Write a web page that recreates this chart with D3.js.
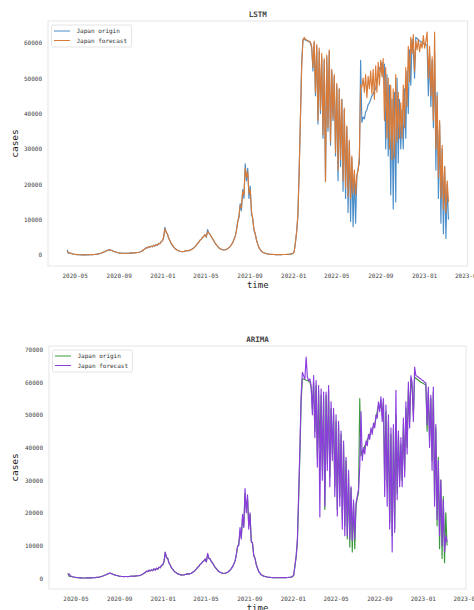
<!DOCTYPE html>
<html>
<head>
<meta charset="utf-8">
<script src="https://cdn.jsdelivr.net/npm/d3@7"></script>
<style>
  body { margin: 0; background: #fff; }
  svg { display: block; }
</style>
</head>
<body>
<div id="chart"></div>
<script>
// daily cases in thousands, one point every 3.5 days from 2020-04-10
const startDate = "2020-04-10";
const stepHours = 84;

const origin = [
  // 2020
  1.5, 0.5, 0.6, 0.45, 0.35, 0.25,
  0.2, 0.15, 0.1, 0.08, 0.06, 0.05, 0.04, 0.04, 0.04,
  0.05, 0.05, 0.05, 0.06, 0.08, 0.1, 0.12, 0.15, 0.2,
  0.25, 0.3, 0.4, 0.5, 0.65, 0.8, 0.95, 1.1, 1.3,
  1.4, 1.5, 1.35, 1.2, 1.05, 0.9, 0.8, 0.7, 0.6,
  0.55, 0.5, 0.5, 0.45, 0.5, 0.5, 0.45, 0.5,
  0.55, 0.6, 0.55, 0.6, 0.6, 0.65, 0.7, 0.75, 0.85,
  1.0, 1.2, 1.5, 1.7, 2.1, 2.0, 2.4, 2.2, 2.5,
  2.3, 2.8, 2.5, 3.0, 2.7, 3.3, 3.2, 3.8,
  // 2021
  4.0, 4.9, 7.8, 6.4, 6.0, 4.7, 4.0, 3.2, 2.7,
  2.2, 1.8, 1.6, 1.3, 1.2, 1.0, 1.0, 0.95,
  1.0, 1.1, 1.2, 1.3, 1.2, 1.4, 1.5, 1.8, 2.0,
  2.4, 2.8, 3.3, 3.6, 4.2, 4.5, 5.0, 5.3, 5.8,
  5.0, 7.2, 6.2, 5.8, 5.1, 4.6, 4.0, 3.3, 2.9,
  2.4, 2.0, 1.8, 1.6, 1.5, 1.4, 1.5, 1.6,
  1.8, 2.1, 2.4, 2.9, 3.5, 4.3, 5.2, 7.0, 9.5,
  10.5, 14.5, 12.5, 18.5, 16.0, 25.8, 21.0, 24.5, 16.0,
  19.5, 11.5, 10.5, 7.0, 6.0, 4.2, 3.0, 2.0,
  1.5, 1.0, 0.8, 0.6, 0.5, 0.4, 0.3, 0.25, 0.22,
  0.18, 0.15, 0.13, 0.12, 0.1, 0.1, 0.1, 0.12, 0.12,
  0.13, 0.14, 0.15, 0.16, 0.18, 0.2, 0.25, 0.3, 0.45,
  // 2022
  0.8, 3.5, 6.5, 11.0, 24.0, 38.0, 54.0, 61.0,
  61.0, 60.8, 60.6, 60.5, 60.3, 60.0, 58.5, 52.0,
  60.0, 45.0, 59.0, 37.0, 57.5, 40.0, 56.0, 33.0, 55.0,
  21.0, 56.0, 35.0, 57.5, 31.0, 52.0, 38.0, 50.5, 28.0,
  48.0, 21.0, 47.0, 25.0, 44.0, 18.0, 41.0, 16.0, 36.0,
  12.0, 32.0, 9.5, 27.5, 8.0, 23.0, 9.0, 22.0,
  24.5, 26.0, 55.0, 37.5, 39.0, 38.5, 40.5, 41.0, 42.5,
  43.0, 44.0, 45.0, 45.5, 46.5, 47.0, 49.0, 51.0, 53.0,
  52.0, 54.5, 50.0, 54.0, 30.0, 51.0, 28.0, 48.0,
  17.0, 44.0, 13.0, 46.0, 15.0, 50.0, 26.0, 44.0, 30.0,
  41.0, 30.0, 47.0, 33.0, 52.0, 40.0, 58.0, 48.0, 61.0,
  58.0, 50.0, 61.5, 61.2, 60.9, 60.6, 60.3, 60.0, 59.8,
  // 2023
  59.6, 59.4, 59.2, 45.0, 57.0, 42.0, 55.0, 36.0, 57.0,
  24.0, 46.0, 16.0, 37.0, 9.0, 30.0, 6.0, 25.0,
  4.7, 20.0, 10.0
];

const lstmForecast = [
  // 2020
  1.2, 0.7, 0.55, 0.5, 0.38, 0.28,
  0.22, 0.17, 0.12, 0.09, 0.07, 0.06, 0.05, 0.05, 0.05,
  0.06, 0.06, 0.06, 0.07, 0.09, 0.11, 0.13, 0.16, 0.21,
  0.26, 0.32, 0.42, 0.52, 0.66, 0.82, 0.97, 1.12, 1.32,
  1.42, 1.48, 1.37, 1.22, 1.07, 0.92, 0.82, 0.72, 0.62,
  0.57, 0.52, 0.5, 0.48, 0.5, 0.5, 0.47, 0.5,
  0.55, 0.6, 0.57, 0.6, 0.62, 0.66, 0.7, 0.76, 0.86,
  1.0, 1.2, 1.5, 1.75, 2.0, 2.05, 2.35, 2.25, 2.5,
  2.35, 2.75, 2.55, 2.95, 2.75, 3.25, 3.2, 3.7,
  // 2021
  4.0, 5.2, 7.4, 6.5, 5.9, 4.8, 4.1, 3.3, 2.8,
  2.3, 1.9, 1.6, 1.35, 1.2, 1.05, 1.0, 0.95,
  1.0, 1.1, 1.2, 1.28, 1.22, 1.38, 1.5, 1.75, 2.0,
  2.35, 2.8, 3.25, 3.6, 4.15, 4.5, 4.95, 5.3, 5.7,
  5.1, 6.6, 6.3, 5.8, 5.2, 4.6, 4.0, 3.4, 2.9,
  2.5, 2.05, 1.8, 1.62, 1.5, 1.42, 1.5, 1.6,
  1.8, 2.1, 2.4, 2.9, 3.5, 4.3, 5.2, 6.8, 9.2,
  11.0, 14.0, 13.5, 18.0, 17.0, 24.5, 22.0, 23.5, 17.5,
  18.5, 12.5, 10.0, 7.2, 6.0, 4.3, 3.0, 2.1,
  1.5, 1.05, 0.8, 0.62, 0.5, 0.4, 0.32, 0.26, 0.22,
  0.18, 0.16, 0.14, 0.12, 0.11, 0.1, 0.1, 0.12, 0.12,
  0.13, 0.14, 0.15, 0.16, 0.18, 0.2, 0.25, 0.3, 0.45,
  // 2022
  0.8, 3.3, 6.6, 11.5, 23.0, 38.5, 53.0, 60.5,
  61.5, 61.0, 60.8, 60.6, 60.4, 60.2, 59.0, 53.0,
  60.5, 46.0, 59.5, 38.0, 58.5, 41.0, 57.0, 34.0, 55.5,
  20.7, 56.5, 36.0, 58.0, 32.0, 52.5, 38.5, 51.0, 29.0,
  48.5, 24.0, 47.0, 27.0, 44.0, 21.0, 41.5, 19.0, 36.5,
  16.5, 32.5, 16.0, 28.0, 17.5, 24.0, 17.0, 22.5,
  24.0, 28.0, 48.0, 47.5, 50.0, 46.0, 51.0, 44.5, 50.5,
  47.0, 52.0, 45.5, 52.5, 44.0, 53.5, 46.0, 54.5, 48.0,
  55.0, 50.5, 55.5, 38.0, 53.0, 33.0, 50.0, 30.0,
  48.0, 27.0, 47.0, 27.5, 51.0, 32.0, 46.0, 33.0, 43.0,
  33.0, 48.0, 36.0, 53.0, 42.0, 59.0, 49.0, 61.5, 57.0,
  62.3, 52.0, 60.5, 58.0, 61.0, 57.5, 60.0, 58.5, 62.0,
  // 2023
  58.5, 60.5, 63.0, 50.0, 59.0, 45.0, 56.0, 38.0, 63.0,
  30.0, 45.0, 22.0, 38.0, 16.0, 31.0, 13.0, 25.0,
  12.0, 21.0, 15.0
];

const arimaForecast = [
  // 2020
  0.9, 1.3, 0.55, 0.55, 0.4, 0.3,
  0.23, 0.17, 0.12, 0.09, 0.07, 0.05, 0.04, 0.04, 0.04,
  0.05, 0.05, 0.05, 0.06, 0.08, 0.1, 0.12, 0.15, 0.2,
  0.25, 0.31, 0.41, 0.52, 0.66, 0.82, 0.97, 1.12, 1.33,
  1.45, 1.52, 1.33, 1.2, 1.04, 0.9, 0.8, 0.7, 0.6,
  0.55, 0.5, 0.5, 0.46, 0.5, 0.5, 0.46, 0.5,
  0.55, 0.6, 0.56, 0.6, 0.61, 0.66, 0.7, 0.76, 0.86,
  1.02, 1.22, 1.52, 1.72, 2.12, 1.98, 2.45, 2.18, 2.55,
  2.25, 2.85, 2.45, 3.05, 2.65, 3.35, 3.15, 3.9,
  // 2021
  4.1, 5.0, 8.0, 6.2, 6.1, 4.6, 4.0, 3.2, 2.7,
  2.2, 1.8, 1.6, 1.3, 1.2, 1.0, 1.0, 0.95,
  1.0, 1.1, 1.2, 1.3, 1.2, 1.4, 1.5, 1.8, 2.0,
  2.45, 2.75, 3.35, 3.55, 4.25, 4.45, 5.05, 5.25, 5.9,
  4.9, 7.6, 6.0, 5.9, 5.0, 4.6, 3.9, 3.3, 2.9,
  2.4, 2.0, 1.8, 1.6, 1.5, 1.4, 1.5, 1.6,
  1.8, 2.1, 2.4, 2.9, 3.5, 4.3, 5.2, 7.2, 9.8,
  10.0, 15.5, 12.0, 19.5, 15.5, 27.4, 20.0, 25.5, 15.0,
  20.0, 11.0, 10.8, 6.8, 6.1, 4.1, 3.0, 2.0,
  1.5, 1.0, 0.8, 0.6, 0.5, 0.4, 0.3, 0.25, 0.22,
  0.18, 0.15, 0.13, 0.12, 0.1, 0.1, 0.1, 0.12, 0.12,
  0.13, 0.14, 0.15, 0.16, 0.18, 0.2, 0.25, 0.3, 0.5,
  // 2022
  0.9, 3.8, 6.8, 12.0, 26.0, 40.0, 56.0, 63.0,
  62.0, 61.0, 67.7, 61.5, 60.5, 61.0, 59.0, 50.0,
  62.0, 43.0, 60.5, 34.0, 59.0, 18.7, 58.0, 30.0, 57.0,
  22.0, 57.0, 33.0, 59.0, 28.0, 54.0, 36.0, 52.0, 25.0,
  50.0, 19.0, 48.0, 22.0, 45.0, 15.0, 42.0, 13.0, 37.0,
  13.0, 33.0, 12.0, 28.0, 11.5, 24.0, 12.0, 23.0,
  25.0, 27.0, 34.0, 51.0, 36.0, 40.0, 38.0, 42.0, 40.5,
  44.0, 42.5, 46.0, 44.0, 47.5, 46.0, 50.0, 49.0, 54.0,
  51.0, 55.5, 48.0, 55.0, 25.0, 53.0, 22.0, 50.0,
  15.0, 46.0, 8.0, 47.0, 14.0, 57.5, 24.0, 45.0, 28.0,
  43.0, 28.0, 49.0, 31.0, 54.0, 38.0, 60.0, 46.0, 62.0,
  60.0, 48.0, 64.6, 62.0, 61.8, 61.5, 61.2, 61.0, 60.6,
  // 2023
  60.4, 60.0, 59.8, 47.0, 58.5, 40.0, 56.0, 33.0, 58.5,
  22.0, 47.0, 18.0, 36.0, 13.0, 30.0, 10.0, 24.0,
  8.0, 13.0, 11.0
];

const panels = [
  { title: "LSTM", forecast: lstmForecast, originColor: "#4a8dc8", forecastColor: "#d97b38",
    left: 48, right: 467.5, top: 21, bottom: 266 },
  { title: "ARIMA", forecast: arimaForecast, originColor: "#3c9a3c", forecastColor: "#8b3ddd",
    left: 49, right: 466, top: 346, bottom: 589 }
];

const width = 474, height = 610;
const mono = "'DejaVu Sans Mono', 'Liberation Mono', monospace";

const t0 = d3.isoParse(startDate + "T00:00:00");
const dates = origin.map((d, i) => d3.timeHour.offset(t0, i * stepHours));

const svg = d3.create("svg")
    .attr("width", width)
    .attr("height", height)
    .attr("viewBox", [0, 0, width, height]);

panels.forEach(p => {
    const g = svg.append("g");

    // matplotlib-like 5% margins
    const [d0, d1] = d3.extent(dates);
    const span = d1 - d0;
    const x = d3.scaleTime()
        .domain([new Date(+d0 - span * 0.05), new Date(+d1 + span * 0.05)])
        .range([p.left, p.right]);

    const all = origin.concat(p.forecast).map(v => v * 1000);
    const [ymin, ymax] = d3.extent(all);
    const pad = (ymax - ymin) * 0.05;
    const y = d3.scaleLinear()
        .domain([ymin - pad, ymax + pad])
        .range([p.bottom, p.top]);

    g.append("rect")
        .attr("x", p.left).attr("y", p.top)
        .attr("width", p.right - p.left).attr("height", p.bottom - p.top)
        .attr("fill", "none")
        .attr("stroke", "#e6e6e6")
        .attr("stroke-width", 1);

    const xAxis = g.append("g")
        .attr("transform", `translate(0,${p.bottom})`)
        .call(d3.axisBottom(x)
            .ticks(d3.timeMonth.every(4))
            .tickFormat(d3.timeFormat("%Y-%m"))
            .tickSize(0)
            .tickPadding(8));
    xAxis.select(".domain").remove();
    xAxis.selectAll("text")
        .attr("font-family", mono)
        .attr("font-size", 6)
        .attr("fill", "#444");

    const yAxis = g.append("g")
        .attr("transform", `translate(${p.left},0)`)
        .call(d3.axisLeft(y).ticks(7).tickFormat(d3.format("d")).tickSize(0).tickPadding(6));
    yAxis.select(".domain").remove();
    yAxis.selectAll("text")
        .attr("font-family", mono)
        .attr("font-size", 6)
        .attr("fill", "#444");

    const line = d3.line()
        .x((d, i) => x(dates[i]))
        .y(d => y(d * 1000));

    g.append("path")
        .datum(origin)
        .attr("fill", "none")
        .attr("stroke", p.originColor)
        .attr("stroke-width", 1.15)
        .attr("stroke-linejoin", "round")
        .attr("d", line);

    g.append("path")
        .datum(p.forecast)
        .attr("fill", "none")
        .attr("stroke", p.forecastColor)
        .attr("stroke-width", 1.15)
        .attr("stroke-linejoin", "round")
        .attr("d", line);

    g.append("text")
        .attr("x", (p.left + p.right) / 2)
        .attr("y", p.top - 4)
        .attr("text-anchor", "middle")
        .attr("font-family", mono)
        .attr("font-size", 7.5)
        .attr("font-weight", "bold")
        .attr("fill", "#444")
        .text(p.title);

    g.append("text")
        .attr("x", (p.left + p.right) / 2)
        .attr("y", p.bottom + 22)
        .attr("text-anchor", "middle")
        .attr("font-family", mono)
        .attr("font-size", 9)
        .attr("fill", "#222")
        .text("time");

    g.append("text")
        .attr("transform", `translate(18,${(p.top + p.bottom) / 2}) rotate(-90)`)
        .attr("text-anchor", "middle")
        .attr("font-family", mono)
        .attr("font-size", 9.5)
        .attr("fill", "#222")
        .text("cases");

    // legend
    const lg = g.append("g").attr("transform", `translate(${p.left + 3.5},${p.top + 4})`);
    lg.append("rect")
        .attr("width", 80).attr("height", 22).attr("rx", 1.5)
        .attr("fill", "#fff").attr("fill-opacity", 0.85)
        .attr("stroke", "#dddddd").attr("stroke-width", 0.8);
    [["Japan origin", p.originColor], ["Japan forecast", p.forecastColor]].forEach(([label, color], k) => {
        const yy = 6 + k * 9.5;
        lg.append("line")
            .attr("x1", 2.5).attr("x2", 18.5)
            .attr("y1", yy).attr("y2", yy)
            .attr("stroke", color).attr("stroke-width", 1);
        lg.append("text")
            .attr("x", 25).attr("y", yy + 2)
            .attr("font-family", mono)
            .attr("font-size", 6)
            .attr("fill", "#333")
            .text(label);
    });
});

document.getElementById("chart").appendChild(svg.node());
</script>
</body>
</html>
